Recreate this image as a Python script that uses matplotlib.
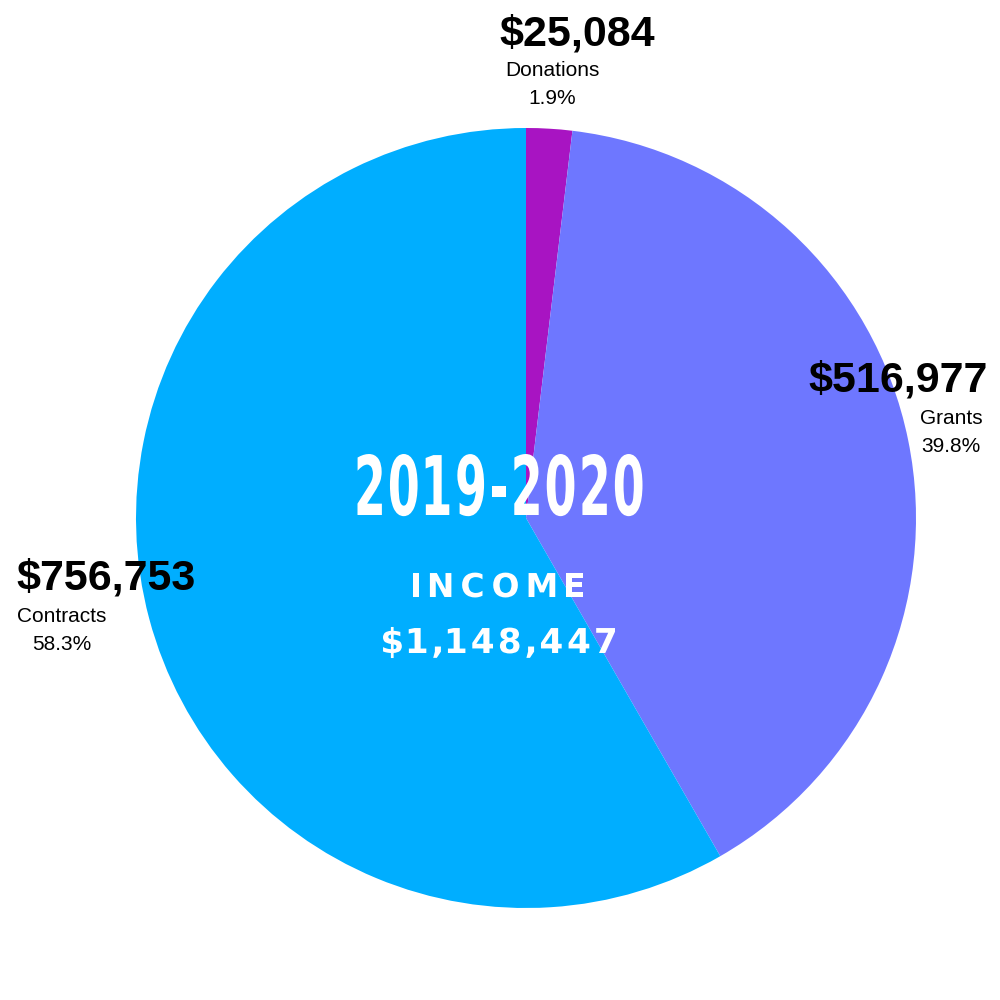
import matplotlib
matplotlib.use("Agg")
import matplotlib.pyplot as plt
from matplotlib.textpath import TextPath
from matplotlib.patches import PathPatch
from matplotlib.font_manager import FontProperties
from matplotlib.transforms import Affine2D

labels = ["Donations", "Grants", "Contracts"]
amounts = ["$25,084", "$516,977", "$756,753"]
percents = [1.9, 39.8, 58.3]
colors = ["#A814C2", "#6E77FF", "#00AEFF"]
year = "2019-2020"
total_title = "INCOME"
total = "$1,148,447"

fig = plt.figure(figsize=(10, 10), dpi=100)
ax = fig.add_axes([0, 0, 1, 1])

ax.pie(percents, colors=colors, startangle=90, counterclock=False,
       center=(526, 482), radius=390, frame=True,
       wedgeprops=dict(linewidth=0))
ax.set_xlim(0, 1000)
ax.set_ylim(0, 1000)
ax.set_aspect("equal")
ax.axis("off")

sans = ["Liberation Sans", "DejaVu Sans"]

# outside labels: (amount xy, name xy, pct xy)
pos = [
    ((577, 965), (552, 929), (552, 901)),
    ((898, 619), (951, 582), (951, 554)),
    ((106, 421), (62, 384), (62, 356)),
]
for amt, lab, pct, (p1, p2, p3) in zip(amounts, labels, percents, pos):
    ax.text(*p1, amt, ha="center", va="center", fontsize=31,
            fontweight="bold", family=sans)
    ax.text(*p2, lab, ha="center", va="center", fontsize=15, family=sans)
    ax.text(*p3, f"{pct}%", ha="center", va="center", fontsize=15, family=sans)


def white_text(s, xc, base, cap, width, prop, sx=1.0):
    # letters drawn as paths so they can be squeezed / spread to a width
    size = cap / 0.73
    paths = [TextPath((0, 0), ch, size=size, prop=prop) for ch in s]
    exts = [p.get_extents() for p in paths]
    ink = sum(e.width * sx for e in exts)
    gap = (width - ink) / (len(s) - 1)
    x = xc - width / 2
    for p, e in zip(paths, exts):
        tr = Affine2D().translate(-e.x0, 0).scale(sx, 1).translate(x, base)
        ax.add_patch(PathPatch(p, transform=tr + ax.transData, color="white", lw=0))
        x += e.width * sx + gap


bold = FontProperties(family="DejaVu Sans", weight="bold")
white_text(year, 500, 485, 60, 285, bold, sx=0.56)
white_text(total_title, 498, 403, 24, 170, bold)
white_text(total, 499, 347, 25, 232, bold)

fig.savefig("out.png", dpi=100, facecolor="white")
